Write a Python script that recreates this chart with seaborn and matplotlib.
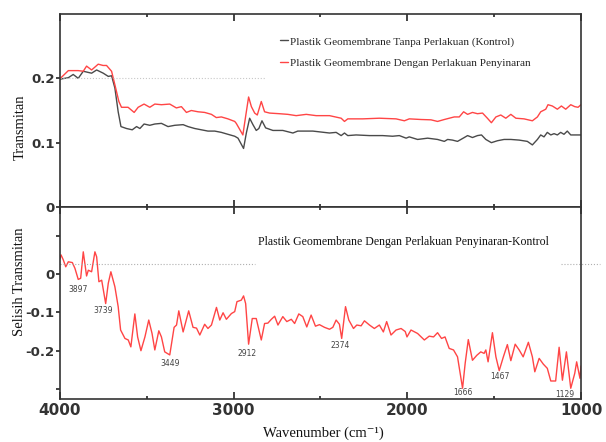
import matplotlib
matplotlib.use("Agg")
import numpy as np
import pandas as pd
import matplotlib.pyplot as plt
import seaborn as sns
from matplotlib.ticker import FixedLocator

# top panel: transmittance spectra
kontrol_wn = [4000, 3994, 3952, 3924, 3895, 3866, 3818, 3789, 3751, 3722,
              3703, 3684, 3665, 3649, 3617, 3584, 3559, 3540, 3516, 3483,
              3454, 3416, 3378, 3339, 3291, 3263, 3224, 3186, 3148, 3109,
              3071, 3033, 2994, 2975, 2943, 2927, 2908, 2889, 2870, 2855,
              2837, 2816, 2774, 2717, 2659, 2631, 2544, 2448, 2410, 2381,
              2362, 2343, 2295, 2218, 2142, 2085, 2046, 2007, 1989, 1941,
              1883, 1826, 1787, 1768, 1740, 1711, 1672, 1653, 1625, 1596,
              1573, 1548, 1516, 1481, 1443, 1404, 1356, 1309, 1280, 1251,
              1232, 1213, 1194, 1174, 1155, 1136, 1117, 1098, 1079, 1059,
              1021, 1000]
kontrol_t = [0.198, 0.199, 0.201, 0.206, 0.200, 0.211, 0.208, 0.213, 0.208, 0.203,
             0.204, 0.185, 0.148, 0.125, 0.122, 0.120, 0.125, 0.122, 0.129, 0.127,
             0.129, 0.130, 0.125, 0.127, 0.128, 0.125, 0.122, 0.120, 0.118, 0.118,
             0.116, 0.113, 0.110, 0.107, 0.091, 0.115, 0.138, 0.128, 0.119, 0.122,
             0.134, 0.123, 0.119, 0.119, 0.115, 0.118, 0.118, 0.115, 0.116, 0.111,
             0.115, 0.111, 0.112, 0.111, 0.111, 0.110, 0.111, 0.107, 0.109, 0.105,
             0.107, 0.105, 0.102, 0.105, 0.104, 0.102, 0.108, 0.111, 0.108, 0.111,
             0.112, 0.105, 0.100, 0.103, 0.105, 0.105, 0.104, 0.102, 0.0965, 0.105,
             0.112, 0.109, 0.116, 0.112, 0.114, 0.112, 0.116, 0.113, 0.118, 0.112,
             0.112, 0.112]

sinar_wn = [4000, 3994, 3952, 3895, 3866, 3847, 3818, 3780, 3752, 3732,
            3703, 3684, 3661, 3646, 3608, 3573, 3550, 3516, 3483, 3454,
            3416, 3368, 3330, 3301, 3272, 3244, 3205, 3167, 3128, 3100,
            3071, 3033, 2994, 2985, 2947, 2931, 2914, 2898, 2879, 2864,
            2841, 2822, 2793, 2736, 2688, 2640, 2582, 2525, 2448, 2381,
            2362, 2343, 2257, 2161, 2065, 2017, 1989, 1921, 1864, 1826,
            1787, 1730, 1701, 1676, 1653, 1625, 1596, 1567, 1539, 1516,
            1490, 1462, 1433, 1404, 1375, 1328, 1280, 1251, 1232, 1203,
            1190, 1165, 1136, 1113, 1088, 1059, 1036, 1017, 1000]
sinar_t = [0.199, 0.201, 0.212, 0.212, 0.211, 0.219, 0.213, 0.222, 0.220, 0.220,
           0.211, 0.190, 0.164, 0.155, 0.155, 0.147, 0.155, 0.160, 0.155, 0.160,
           0.159, 0.160, 0.154, 0.156, 0.147, 0.150, 0.148, 0.147, 0.144, 0.139,
           0.140, 0.137, 0.133, 0.130, 0.112, 0.141, 0.171, 0.156, 0.146, 0.143,
           0.164, 0.148, 0.146, 0.145, 0.144, 0.142, 0.144, 0.142, 0.142, 0.138,
           0.133, 0.137, 0.137, 0.138, 0.137, 0.134, 0.137, 0.136, 0.1355, 0.133,
           0.136, 0.140, 0.140, 0.148, 0.144, 0.147, 0.145, 0.146, 0.138, 0.131,
           0.140, 0.143, 0.138, 0.144, 0.138, 0.137, 0.134, 0.140, 0.148, 0.152,
           0.159, 0.157, 0.152, 0.157, 0.152, 0.159, 0.156, 0.155, 0.159]

# bottom panel: difference (penyinaran - kontrol)
selisih_wn = [4000, 3994, 3981, 3967, 3952, 3929, 3914, 3895, 3881, 3866,
              3847, 3837, 3818, 3799, 3789, 3776, 3760, 3737, 3722, 3707,
              3684, 3665, 3651, 3626, 3607, 3592, 3569, 3553, 3534, 3511,
              3489, 3470, 3454, 3431, 3416, 3397, 3368, 3343, 3329, 3316,
              3291, 3259, 3234, 3214, 3195, 3167, 3148, 3128, 3099, 3080,
              3061, 3042, 3013, 2994, 2981, 2956, 2943, 2931, 2914, 2893,
              2870, 2841, 2822, 2803, 2783, 2764, 2745, 2717, 2694, 2668,
              2649, 2625, 2602, 2579, 2554, 2529, 2506, 2477, 2448, 2429,
              2410, 2391, 2378, 2356, 2337, 2310, 2291, 2266, 2247, 2218,
              2190, 2161, 2138, 2119, 2094, 2065, 2036, 2012, 2002, 1979,
              1941, 1902, 1874, 1849, 1826, 1803, 1783, 1759, 1734, 1711,
              1682, 1667, 1649, 1625, 1600, 1577, 1558, 1548, 1535, 1510,
              1490, 1471, 1447, 1424, 1404, 1379, 1356, 1333, 1303, 1280,
              1266, 1241, 1217, 1194, 1174, 1146, 1126, 1107, 1084, 1059,
              1036, 1025, 1006, 1000]
selisih_t = [0.040, 0.050, 0.037, 0.019, 0.032, 0.030, 0.015, -0.014, -0.011, 0.058,
             -0.005, 0.010, 0.006, 0.058, 0.045, -0.020, -0.016, -0.077, -0.024, 0.006,
             -0.033, -0.085, -0.146, -0.168, -0.172, -0.190, -0.104, -0.164, -0.200, -0.164,
             -0.120, -0.155, -0.198, -0.148, -0.164, -0.203, -0.211, -0.139, -0.133, -0.096,
             -0.151, -0.096, -0.139, -0.141, -0.159, -0.131, -0.142, -0.133, -0.087, -0.120,
             -0.101, -0.118, -0.103, -0.098, -0.072, -0.068, -0.057, -0.077, -0.183, -0.116,
             -0.116, -0.172, -0.129, -0.128, -0.118, -0.110, -0.133, -0.111, -0.124, -0.118,
             -0.129, -0.104, -0.111, -0.138, -0.107, -0.136, -0.132, -0.139, -0.144, -0.139,
             -0.120, -0.131, -0.168, -0.085, -0.120, -0.142, -0.133, -0.135, -0.122, -0.133,
             -0.142, -0.133, -0.151, -0.124, -0.159, -0.146, -0.142, -0.150, -0.164, -0.146,
             -0.155, -0.172, -0.162, -0.164, -0.153, -0.168, -0.164, -0.194, -0.198, -0.216,
             -0.298, -0.233, -0.171, -0.225, -0.212, -0.203, -0.207, -0.198, -0.229, -0.153,
             -0.216, -0.252, -0.216, -0.184, -0.226, -0.183, -0.198, -0.216, -0.178, -0.216,
             -0.255, -0.220, -0.235, -0.246, -0.279, -0.279, -0.191, -0.277, -0.203, -0.298,
             -0.259, -0.229, -0.272, -0.240]

# peak labels (wavenumber text, x, y)
peak_labels = ["3897", "3739", "3449", "2912", "2374", "1666", "1467", "1129"]
peak_x = [3897, 3753, 3368, 2925, 2385, 1678, 1466, 1092]
peak_y = [-0.040, -0.094, -0.233, -0.207, -0.187, -0.310, -0.268, -0.314]

label_kontrol = "Plastik Geomembrane Tanpa Perlakuan (Kontrol)"
label_sinar = "Plastik Geomembrane Dengan Perlakuan Penyinaran"
judul_selisih = "Plastik Geomembrane Dengan Perlakuan Penyinaran-Kontrol"

# faint dotted guide lines seen in the scan
guide_top = (0.2, 4000, 2822)
guide_bot = (0.026, 4000, 2879)
guide_bot_right = (0.026, 1115, 890)

sns.set_style("white")
serif = ["Liberation Serif", "DejaVu Serif"]
tick_font = dict(family="DejaVu Sans", weight="bold", color="#333333")

top = pd.concat([
    pd.DataFrame({"wn": kontrol_wn, "t": kontrol_t, "seri": label_kontrol}),
    pd.DataFrame({"wn": sinar_wn, "t": sinar_t, "seri": label_sinar}),
])
bot = pd.DataFrame({"wn": selisih_wn, "t": selisih_t})

fig = plt.figure(figsize=(6.06, 4.42), dpi=100)
ax1 = fig.add_axes([60 / 606, 1 - 207 / 442, 521 / 606, 193 / 442])
ax2 = fig.add_axes([60 / 606, 1 - 399 / 442, 521 / 606, 192 / 442])

pal = {label_kontrol: "#4a4a4a", label_sinar: "#ff4545"}
sns.lineplot(data=top, x="wn", y="t", hue="seri", palette=pal, estimator=None,
             sort=False, linewidth=1.0, legend=False, ax=ax1)
sns.lineplot(data=bot, x="wn", y="t", color="#ff4545", estimator=None,
             sort=False, linewidth=1.0, ax=ax2)

ax1.plot([guide_top[1], guide_top[2]], [guide_top[0]] * 2, ls=":", color="#c8c8c8", lw=0.8)
ax2.plot([guide_bot[1], guide_bot[2]], [guide_bot[0]] * 2, ls=":", color="#b0b0b0", lw=0.8)
ax2.plot([guide_bot_right[1], guide_bot_right[2]], [guide_bot_right[0]] * 2, ls=":",
         color="#b0b0b0", lw=0.8, clip_on=False)

for ax in (ax1, ax2):
    ax.set_xlim(4000, 1000)
    ax.xaxis.set_major_locator(FixedLocator([4000, 3000, 2000, 1000]))
    ax.xaxis.set_minor_locator(FixedLocator([3500, 2500, 1500]))
    ax.tick_params(axis="x", which="both", direction="in", top=True, bottom=True,
                   color="#222222", width=1.2)
    ax.tick_params(axis="x", which="major", length=5)
    ax.tick_params(axis="x", which="minor", length=2.5)
    ax.tick_params(axis="y", direction="out", left=True, length=3, width=1.2,
                   color="#222222", pad=1)
    for s in ax.spines.values():
        s.set_color("#333333")
        s.set_linewidth(1.2)
    ax.set_xlabel("")
    ax.set_ylabel("")

ax1.set_ylim(0, 0.3)
ax1.set_yticks([0, 0.1, 0.2])
ax1.set_yticklabels(["0", "0.1", "0.2"], fontsize=9.5, **tick_font)
ax1.tick_params(axis="x", labelbottom=False)

ax2.set_ylim(-0.326, 0.175)
ax2.set_yticks([-0.3, -0.2, -0.1, 0, 0.1])
ax2.set_yticklabels(["", "-0.2", "-0.1", "0", ""], fontsize=9.5, **tick_font)
ax2.set_xticklabels(["4000", "3000", "2000", "1000"], fontsize=11, **tick_font)
ax2.tick_params(axis="x", pad=3)

leg = ax1.legend(ax1.get_lines()[:2], [label_kontrol, label_sinar],
                 loc="upper left", bbox_to_anchor=(0.423, 0.884), frameon=False,
                 handlelength=0.7, handletextpad=0.15, borderpad=0, borderaxespad=0,
                 labelspacing=1.03, prop={"family": serif, "size": 8.1})

ax2.text(2023, 0.084, judul_selisih, ha="center", va="center", family=serif,
         fontsize=8.5, color="#111111")

for lab, x, y in zip(peak_labels, peak_x, peak_y):
    ax2.text(x, y, lab, ha="center", va="center", fontsize=5.5, color="#444444",
             family="DejaVu Sans")

fig.text(20 / 606, 1 - 127 / 442, "Transmitan", rotation=90, ha="center", va="center",
         family=serif, fontsize=10.5, color="#111111")
fig.text(20 / 606, 1 - 282 / 442, "Selisih Transmitan", rotation=90, ha="center",
         va="center", family=serif, fontsize=10.5, color="#111111")
fig.text(323 / 606, 1 - 433 / 442, "Wavenumber (cm\u207b\u00b9)", ha="center", va="center",
         family=serif, fontsize=10.5, color="#111111")

fig.savefig("out.png", dpi=100)
